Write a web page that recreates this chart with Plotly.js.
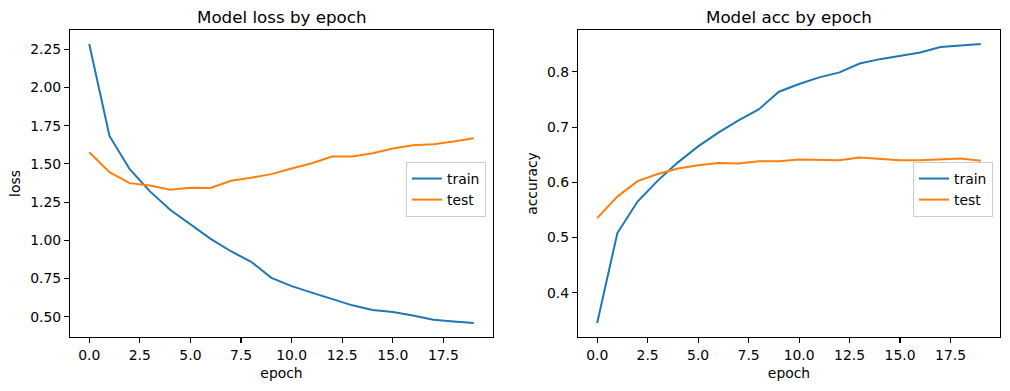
<!DOCTYPE html>
<html>
<head>
<meta charset="utf-8">
<script src="https://cdn.plot.ly/plotly-3.0.1.min.js"></script>
<style>html,body{margin:0;padding:0;background:#fff;}#chart{width:1010px;height:391px;}</style>
</head>
<body>
<div id="chart"></div>
<script>
const epochs = [0,1,2,3,4,5,6,7,8,9,10,11,12,13,14,15,16,17,18,19];
const lossTrain = [2.285,1.683,1.465,1.320,1.200,1.102,1.009,0.928,0.859,0.754,0.700,0.657,0.617,0.574,0.543,0.530,0.508,0.480,0.468,0.458];
const lossTest  = [1.576,1.446,1.374,1.359,1.330,1.343,1.342,1.389,1.409,1.433,1.470,1.504,1.548,1.548,1.570,1.600,1.622,1.628,1.646,1.667];
const accTrain  = [0.345,0.508,0.565,0.603,0.636,0.665,0.690,0.712,0.732,0.764,0.778,0.790,0.799,0.815,0.823,0.829,0.835,0.845,0.848,0.8505];
const accTest   = [0.535,0.574,0.602,0.615,0.625,0.631,0.635,0.634,0.638,0.638,0.641,0.641,0.640,0.645,0.642,0.640,0.640,0.642,0.643,0.639];
const xTicks = [0,2.5,5,7.5,10,12.5,15,17.5];
const xTickText = ['0.0','2.5','5.0','7.5','10.0','12.5','15.0','17.5'];
const lossTicks = [0.5,0.75,1.0,1.25,1.5,1.75,2.0,2.25];
const lossTickText = ['0.50','0.75','1.00','1.25','1.50','1.75','2.00','2.25'];
const accTicks = [0.4,0.5,0.6,0.7,0.8];
const accTickText = ['0.4','0.5','0.6','0.7','0.8'];

const W = 1010, H = 391;
const blue = '#1f77b4', orange = '#ff7f0e';
const font = {family: 'DejaVu Sans, sans-serif', size: 13.9, color: '#000'};

function pad(arrs){
  let mn = Infinity, mx = -Infinity;
  arrs.forEach(a => a.forEach(v => {mn = Math.min(mn, v); mx = Math.max(mx, v);}));
  const d = (mx - mn) * 0.05;
  return [mn - d, mx + d];
}

const traces = [
  {x: epochs, y: lossTrain, name: 'train', type: 'scatter', mode: 'lines', line: {color: blue, width: 2}, xaxis: 'x', yaxis: 'y', legend: 'legend'},
  {x: epochs, y: lossTest, name: 'test', type: 'scatter', mode: 'lines', line: {color: orange, width: 2}, xaxis: 'x', yaxis: 'y', legend: 'legend'},
  {x: epochs, y: accTrain, name: 'train', type: 'scatter', mode: 'lines', line: {color: blue, width: 2}, xaxis: 'x2', yaxis: 'y2', legend: 'legend2'},
  {x: epochs, y: accTest, name: 'test', type: 'scatter', mode: 'lines', line: {color: orange, width: 2}, xaxis: 'x2', yaxis: 'y2', legend: 'legend2'}
];

const axBase = {
  showgrid: false, zeroline: false, showline: true, mirror: true,
  linecolor: '#000', linewidth: 1.1, ticks: 'outside', ticklen: 5, tickwidth: 1.1, tickcolor: '#000',
  tickfont: font
};
const yTop = 1 - 30/H, yBot = 1 - 337/H;
const xr = pad([epochs]);

const legendBase = {
  bgcolor: 'rgba(255,255,255,0.8)', bordercolor: '#cccccc', borderwidth: 1,
  font: font, xanchor: 'right', yanchor: 'top', itemwidth: 30, tracegroupgap: 0
};

const layout = {
  width: W, height: H,
  margin: {l: 0, r: 0, t: 0, b: 0},
  paper_bgcolor: '#fff', plot_bgcolor: '#fff',
  font: font,
  showlegend: true,
  xaxis: Object.assign({}, axBase, {domain: [70/W, 493/W], range: xr, tickvals: xTicks, ticktext: xTickText, anchor: 'y',
    title: {text: 'epoch', font: font, standoff: 6}}),
  yaxis: Object.assign({}, axBase, {domain: [yBot, yTop], range: pad([lossTrain, lossTest]), tickvals: lossTicks, ticktext: lossTickText, anchor: 'x',
    title: {text: 'loss', font: font, standoff: 6}}),
  xaxis2: Object.assign({}, axBase, {domain: [578/W, 1000/W], range: xr, tickvals: xTicks, ticktext: xTickText, anchor: 'y2',
    title: {text: 'epoch', font: font, standoff: 6}}),
  yaxis2: Object.assign({}, axBase, {domain: [yBot, yTop], range: pad([accTrain, accTest]), tickvals: accTicks, ticktext: accTickText, anchor: 'x2',
    title: {text: 'accuracy', font: font, standoff: 6}}),
  legend: Object.assign({}, legendBase, {x: 486/W, y: 1 - 162/H}),
  legend2: Object.assign({}, legendBase, {x: 993/W, y: 1 - 162/H}),
  annotations: [
    {text: 'Model loss by epoch', xref: 'paper', yref: 'paper', x: (70+493)/2/W, y: 1 - 16.5/H, xanchor: 'center', yanchor: 'middle', showarrow: false, font: {family: font.family, size: 16.7, color: '#000'}},
    {text: 'Model acc by epoch', xref: 'paper', yref: 'paper', x: (578+1000)/2/W, y: 1 - 16.5/H, xanchor: 'center', yanchor: 'middle', showarrow: false, font: {family: font.family, size: 16.7, color: '#000'}}
  ]
};

Plotly.newPlot('chart', traces, layout, {displayModeBar: false, staticPlot: true});
</script>
</body>
</html>
